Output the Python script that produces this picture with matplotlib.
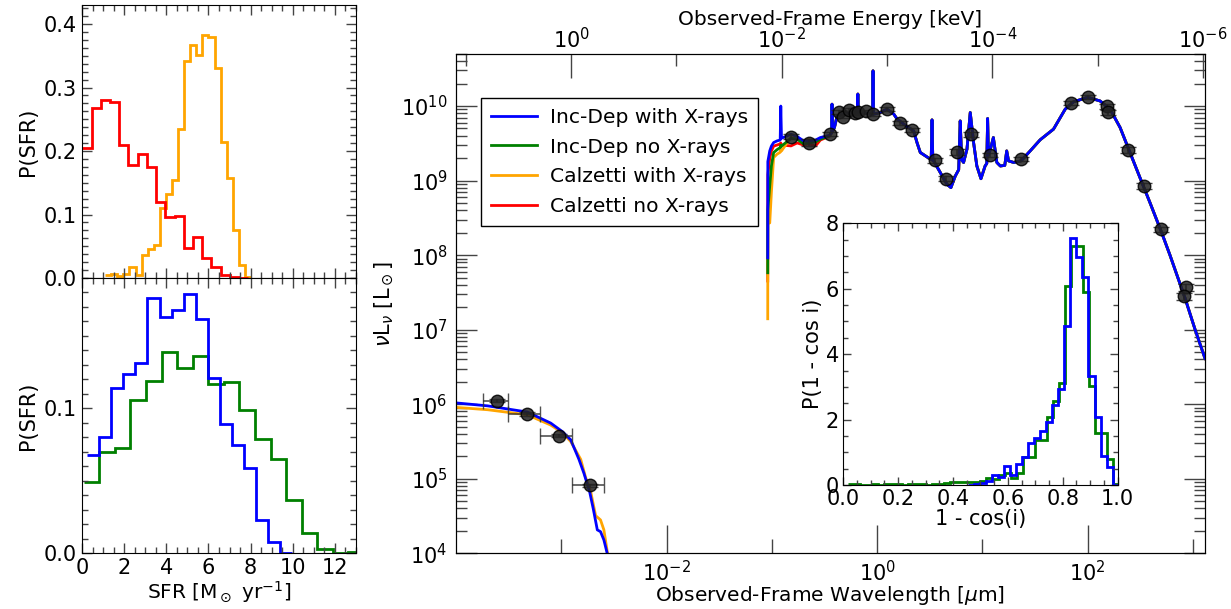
import numpy as np
import matplotlib.pyplot as plt
from matplotlib.ticker import MultipleLocator, FixedLocator, FixedFormatter, NullFormatter

plt.rcParams['font.family'] = 'DejaVu Sans'
plt.rcParams['font.size'] = 15

# ---------------- SFR posteriors ----------------
# Calzetti fits (top left panel)
calz_xray_edges = np.linspace(1.10, 8.02, 25)
calz_xray_p = [0.004, 0.006, 0.003, 0.006, 0.018, 0.005, 0.037, 0.046, 0.052, 0.111,
               0.133, 0.155, 0.235, 0.342, 0.367, 0.351, 0.382, 0.379, 0.330, 0.215,
               0.157, 0.076, 0.020, 0.001]
calz_nox_edges = np.linspace(0.02, 7.89, 19)
calz_nox_p = [0.204, 0.267, 0.281, 0.277, 0.209, 0.178, 0.196, 0.175, 0.120, 0.096,
              0.098, 0.047, 0.065, 0.031, 0.018, 0.004, 0.002, 0.0]

# inclination-dependent fits (bottom left panel)
incdep_xray_edges = np.linspace(0.24, 9.98, 18)
incdep_xray_p = [0.0676, 0.080, 0.114, 0.124, 0.131, 0.176, 0.163, 0.168, 0.179,
                 0.162, 0.121, 0.089, 0.0745, 0.059, 0.023, 0.008, 0.0005]
incdep_nox_edges = np.linspace(0.08, 13.38, 19)
incdep_nox_p = [0.049, 0.070, 0.073, 0.106, 0.119, 0.139, 0.128, 0.136, 0.117,
                0.118, 0.099, 0.079, 0.065, 0.037, 0.014, 0.003, 0.0, 0.001]

# ---------------- inclination posteriors (inset) ----------------
cosi_xray_edges = np.linspace(0.455, 1.004, 26)
cosi_xray_p = [0.01, 0.03, 0.06, 0.13, 0.30, 0.25, 0.58, 0.30, 0.64, 0.87, 1.27, 1.43,
               1.66, 1.94, 2.45, 2.93, 4.86, 7.54, 6.98, 6.37, 3.34, 2.09, 0.90, 0.56, 0.0]
cosi_nox_edges = np.linspace(0.016, 1.006, 46)
cosi_nox_p = [0.03, 0.02, 0.0, 0.0, 0.02, 0.01, 0.03, 0.02, 0.02, 0.01, 0.03, 0.02,
              0.03, 0.01, 0.02, 0.03, 0.05, 0.08, 0.10, 0.10, 0.10, 0.10, 0.12, 0.20,
              0.17, 0.30, 0.36, 0.20, 0.36, 0.87, 0.87, 1.38, 1.38, 2.07, 2.58, 3.13,
              6.07, 7.32, 7.32, 5.91, 3.04, 1.60, 1.60, 0.78, 0.02]

# ---------------- model SEDs (wavelength in micron, nuLnu in Lsun) ----------------
xray_wave_incdep = [1.01e-4, 2.0e-4, 4.76e-4, 7.94e-4, 1.02e-3, 1.23e-3, 1.47e-3,
                    1.64e-3, 1.86e-3, 2.01e-3, 2.20e-3, 2.36e-3, 2.54e-3, 2.73e-3, 2.9e-3]
xray_lum_incdep = [1.04e6, 9.5e5, 7.85e5, 5.58e5, 4.31e5, 3.33e5, 1.83e5,
                   1.19e5, 6.7e4, 4.0e4, 2.06e4, 1.95e4, 1.51e4, 1.0e4, 5.0e3]
xray_wave_calz = [1.01e-4, 2.0e-4, 4.76e-4, 7.94e-4, 1.02e-3, 1.23e-3, 1.53e-3,
                  1.70e-3, 1.90e-3, 2.12e-3, 2.36e-3, 2.54e-3, 2.75e-3, 2.9e-3]
xray_lum_calz = [9.06e5, 8.43e5, 7.21e5, 5.25e5, 4.17e5, 3.16e5, 1.82e5,
                 1.05e5, 6.8e4, 3.2e4, 2.8e4, 2.06e4, 1.0e4, 5.0e3]

uv_wave = [0.0914, 0.0916, 0.0955, 0.099, 0.104, 0.112, 0.120, 0.1216, 0.1235,
           0.152, 0.174, 0.200, 0.224, 0.260, 0.289, 0.354]
uv_lum_incdep_xray = [9.2e7, 1.8e9, 2.5e9, 2.9e9, 3.24e9, 3.41e9, 3.5e9, 1.0e10, 3.7e9,
                      4.19e9, 3.9e9, 3.41e9, 3.41e9, 3.5e9, 3.78e9, 4.06e9]
uv_lum_incdep_nox = [5.8e7, 4.0e8, 8.5e8, 1.57e9, 2.38e9, 2.6e9, 2.77e9, 3.0e9, 2.9e9,
                     3.7e9, 3.6e9, 3.1e9, 3.2e9, 3.3e9, 3.6e9, 4.0e9]
uv_lum_calz_xray = [1.4e7, 2.7e8, 2.7e8, 6.9e8, 2.04e9, 2.26e9, 2.4e9, 2.6e9, 2.5e9,
                    3.8e9, 3.7e9, 3.2e9, 3.6e9, 3.3e9, 3.7e9, 4.0e9]
uv_lum_calz_nox = [4.5e7, 1.2e9, 2.0e9, 2.5e9, 2.9e9, 3.0e9, 3.1e9, 3.2e9, 3.0e9,
                   2.92e9, 3.2e9, 3.0e9, 3.1e9, 2.92e9, 3.5e9, 3.95e9]

# optical to sub-mm, where the four fits overlap
sed_wave = [0.370, 0.3727, 0.376, 0.393, 0.417, 0.481, 0.557, 0.648, 0.6563, 0.664,
            0.745, 0.905, 0.914, 0.923, 1.07, 1.24, 1.44, 1.55, 1.79, 2.22, 2.39, 2.57,
            3.20, 3.26, 3.32, 3.38, 3.44, 3.98, 4.60, 5.02, 5.52, 5.95, 6.15, 6.35, 6.62,
            7.13, 7.66, 8.24, 8.85, 9.68, 10.6, 11.0, 11.2, 11.4, 11.9, 12.7, 13.7, 14.8,
            16.3, 17.0, 17.7, 19.8, 23.3, 28.4, 35.3, 47.3, 61.1, 73.3, 100.0, 131.0,
            163.0, 203.0, 252.0, 313.0, 390.0, 504.0, 604.0, 841.0, 1047.0, 1300.0]
sed_lum = [4.4e9, 1.06e10, 4.6e9, 5.15e9, 7.38e9, 7.78e9, 8.18e9, 8.1e9, 1.45e10, 8.1e9,
           8.04e9, 7.78e9, 2.97e10, 7.78e9, 8.18e9, 9.08e9, 7.78e9, 6.67e9, 5.71e9, 4.65e9,
           3.24e9, 2.38e9, 1.94e9, 1.92e9, 6.53e9, 1.86e9, 1.84e9, 1.28e9, 8.93e8, 8.05e8,
           1.15e9, 1.4e9, 6.32e9, 1.9e9, 1.75e9, 2.64e9, 8.18e9, 3.24e9, 1.57e9, 1.06e9,
           1.57e9, 1.7e9, 6.8e9, 2.2e9, 2.64e9, 3.78e9, 1.75e9, 1.57e9, 1.6e9, 2.5e9,
           1.84e9, 1.75e9, 1.84e9, 2.5e9, 3.52e9, 4.9e9, 9.08e9, 1.14e10, 1.31e10, 1.17e10,
           9.08e9, 5.15e9, 2.38e9, 1.1e9, 5.06e8, 2.0e8, 1.0e8, 2.63e7, 1.0e7, 4.1e6]

# ---------------- photometry ----------------
xray_phot_wave = [2.48e-4, 4.76e-4, 9.5e-4, 1.86e-3]
xray_phot_lo = [1.82e-4, 3.15e-4, 6.28e-4, 1.26e-3]
xray_phot_hi = [3.12e-4, 6.28e-4, 1.27e-3, 2.54e-3]
xray_phot_lum = [1.12e6, 7.38e5, 3.78e5, 8.2e4]

phot_wave = [0.152, 0.224, 0.354, 0.431, 0.475, 0.537, 0.621, 0.66, 0.79, 0.908, 1.24,
             1.66, 2.14, 3.51, 4.51, 5.73, 7.78, 11.9, 23.3, 69.6, 100.0, 151.0, 157.0,
             243.0, 345.0, 496.0, 851.0, 826.0]
phot_lum = [3.9e9, 3.24e9, 4.19e9, 8.35e9, 7.2e9, 8.9e9, 8.0e9, 8.2e9, 8.5e9, 7.8e9, 9.1e9,
            5.9e9, 4.74e9, 1.87e9, 1.06e9, 2.42e9, 4.19e9, 2.19e9, 1.93e9, 1.09e10, 1.31e10,
            9.9e9, 8.2e9, 2.58e9, 8.5e8, 2.22e8, 3.7e7, 2.8e7]
phot_err = [0.08, 0.10, 0.06, 0.05, 0.05, 0.05, 0.05, 0.05, 0.05, 0.05, 0.06,
            0.06, 0.06, 0.08, 0.08, 0.08, 0.08, 0.06, 0.06, 0.06, 0.06, 0.08, 0.08,
            0.08, 0.08, 0.08, 0.10, 0.10]

HC_KEV_UM = 1.2398e-3
TICKC = '#444444'
fig = plt.figure(figsize=(12.31, 6.09), dpi=100)

# ---------------- left panels ----------------
ax_t = fig.add_axes([0.0666, 0.5435, 0.2226, 0.4483])
ax_b = fig.add_axes([0.0666, 0.0915, 0.2226, 0.4520], sharex=ax_t)

ax_t.stairs(calz_xray_p, calz_xray_edges, baseline=None, color='orange', lw=2)
ax_t.stairs(calz_nox_p, calz_nox_edges, baseline=None, color='red', lw=2)
ax_b.stairs(incdep_nox_p, incdep_nox_edges, baseline=None, color='green', lw=2)
ax_b.stairs(incdep_xray_p, incdep_xray_edges, baseline=None, color='blue', lw=2)

ax_t.set_xlim(0, 13)
ax_t.set_ylim(0, 0.43)
ax_b.set_ylim(0, 0.19)
for a in (ax_t, ax_b):
    a.xaxis.set_major_locator(MultipleLocator(2))
    a.xaxis.set_minor_locator(MultipleLocator(0.5))
    a.yaxis.set_major_locator(MultipleLocator(0.1))
    a.tick_params(which='both', direction='in', top=True, right=True, color=TICKC,
                  labelsize=15)
    a.tick_params(which='major', length=7, width=1)
    a.tick_params(which='minor', length=4, width=1)
    a.set_ylabel('P(SFR)', fontsize=15)
ax_t.yaxis.set_minor_locator(MultipleLocator(0.0125))
ax_b.yaxis.set_minor_locator(MultipleLocator(0.01))
ax_t.tick_params(labelbottom=False)
ax_b.set_xlabel(r'SFR [M$_\odot$ yr$^{-1}$]', fontsize=14.5, labelpad=1)

# ---------------- main SED panel ----------------
ax = fig.add_axes([0.3704, 0.0915, 0.6085, 0.8199])
ax.set_xscale('log')
ax.set_yscale('log')

wave_nox = uv_wave + sed_wave
l_red, = ax.plot(wave_nox, uv_lum_calz_nox + sed_lum, color='red', lw=2)
l_org, = ax.plot(wave_nox, uv_lum_calz_xray + sed_lum, color='orange', lw=2)
ax.plot(xray_wave_calz, xray_lum_calz, color='orange', lw=2)
l_grn, = ax.plot(wave_nox, uv_lum_incdep_nox + sed_lum, color='green', lw=2)
l_blu, = ax.plot(wave_nox, uv_lum_incdep_xray + sed_lum, color='blue', lw=2)
ax.plot(xray_wave_incdep, xray_lum_incdep, color='blue', lw=2)

xlo = np.array(xray_phot_wave) - np.array(xray_phot_lo)
xhi = np.array(xray_phot_hi) - np.array(xray_phot_wave)
ax.errorbar(xray_phot_wave, xray_phot_lum, xerr=[xlo, xhi],
            yerr=0.05 * np.array(xray_phot_lum), fmt='o', ms=9, mfc='#222222',
            mec='black', ecolor='#333333', elinewidth=1.2, capsize=6, alpha=0.85, zorder=5)
ax.errorbar(phot_wave, phot_lum, yerr=np.array(phot_err) * np.array(phot_lum),
            fmt='o', ms=9, mfc='#222222', mec='black', ecolor='#222222',
            elinewidth=1.2, capsize=6, alpha=0.85, zorder=5)

ax.set_xlim(1e-4, 1300)
ax.set_ylim(1e4, 5e10)
ax.xaxis.set_major_locator(FixedLocator([1e-2, 1e0, 1e2]))
ax.xaxis.set_major_formatter(FixedFormatter([r'$\mathdefault{10^{-2}}$',
                                             r'$\mathdefault{10^{0}}$',
                                             r'$\mathdefault{10^{2}}$']))
ax.xaxis.set_minor_locator(FixedLocator([1e-3, 1e-1, 1e1, 1e3]))
ax.xaxis.set_minor_formatter(NullFormatter())

ax_top = ax.twiny()
ax_top.set_xscale('log')
ax_top.set_xlim(HC_KEV_UM / 1e-4, HC_KEV_UM / 1300)
ax_top.xaxis.set_major_locator(FixedLocator([1e0, 1e-2, 1e-4, 1e-6]))
ax_top.xaxis.set_major_formatter(FixedFormatter([r'$\mathdefault{10^{0}}$',
                                                 r'$\mathdefault{10^{-2}}$',
                                                 r'$\mathdefault{10^{-4}}$',
                                                 r'$\mathdefault{10^{-6}}$']))
ax_top.xaxis.set_minor_locator(FixedLocator([1e1, 1e-1, 1e-3, 1e-5]))
ax_top.xaxis.set_minor_formatter(NullFormatter())
ax_top.tick_params(axis='x', which='major', direction='in', length=17, width=1,
                   color=TICKC, labelsize=15, pad=1)
ax_top.tick_params(axis='x', which='minor', direction='in', length=8.6, width=1,
                   color=TICKC)
ax_top.set_xlabel('Observed-Frame Energy [keV]', fontsize=14.5, labelpad=2)

ax.tick_params(axis='x', which='major', direction='in', length=20, width=1,
               color=TICKC, labelsize=15, pad=5, top=False)
ax.tick_params(axis='x', which='minor', direction='in', length=10, width=1,
               color=TICKC, top=False)
ax.tick_params(axis='y', which='major', direction='in', length=15, width=1,
               color=TICKC, labelsize=15, right=True, pad=6)
ax.tick_params(axis='y', which='minor', direction='in', length=7.7, width=1,
               color=TICKC, right=True)
ax.set_xlabel(r'Observed-Frame Wavelength [$\mu$m]', fontsize=14.5, labelpad=-1)
ax.set_ylabel(r'$\nu$L$_\nu$ [L$_\odot$]', fontsize=15)

leg = ax.legend([l_blu, l_grn, l_org, l_red],
                ['Inc-Dep with X-rays', 'Inc-Dep no X-rays',
                 'Calzetti with X-rays', 'Calzetti no X-rays'],
                loc='upper left', bbox_to_anchor=(0.033, 0.912), borderaxespad=0,
                fontsize=14.6, handlelength=2.3, labelspacing=0.52, borderpad=0.5,
                handletextpad=0.6, fancybox=False, framealpha=1, edgecolor='black')
leg.get_frame().set_linewidth(1)

# ---------------- inset ----------------
axi = fig.add_axes([0.6851, 0.2036, 0.2227, 0.4297])
axi.stairs(cosi_nox_p, cosi_nox_edges, baseline=None, color='green', lw=2)
axi.stairs(cosi_xray_p, cosi_xray_edges, baseline=None, color='blue', lw=2)
axi.set_xlim(0, 1)
axi.set_ylim(0, 8)
axi.xaxis.set_major_locator(MultipleLocator(0.2))
axi.xaxis.set_minor_locator(MultipleLocator(0.05))
axi.yaxis.set_major_locator(MultipleLocator(2))
axi.yaxis.set_minor_locator(MultipleLocator(0.5))
axi.tick_params(which='both', direction='in', top=True, right=True, color=TICKC,
                labelsize=15)
axi.tick_params(which='major', length=6, width=1, pad=3)
axi.tick_params(which='minor', length=3.5, width=1)
axi.set_xlabel('1 - cos(i)', fontsize=15, labelpad=0)
axi.set_ylabel('P(1 - cos i)', fontsize=15, labelpad=2)

fig.savefig('out.png', dpi=100)
